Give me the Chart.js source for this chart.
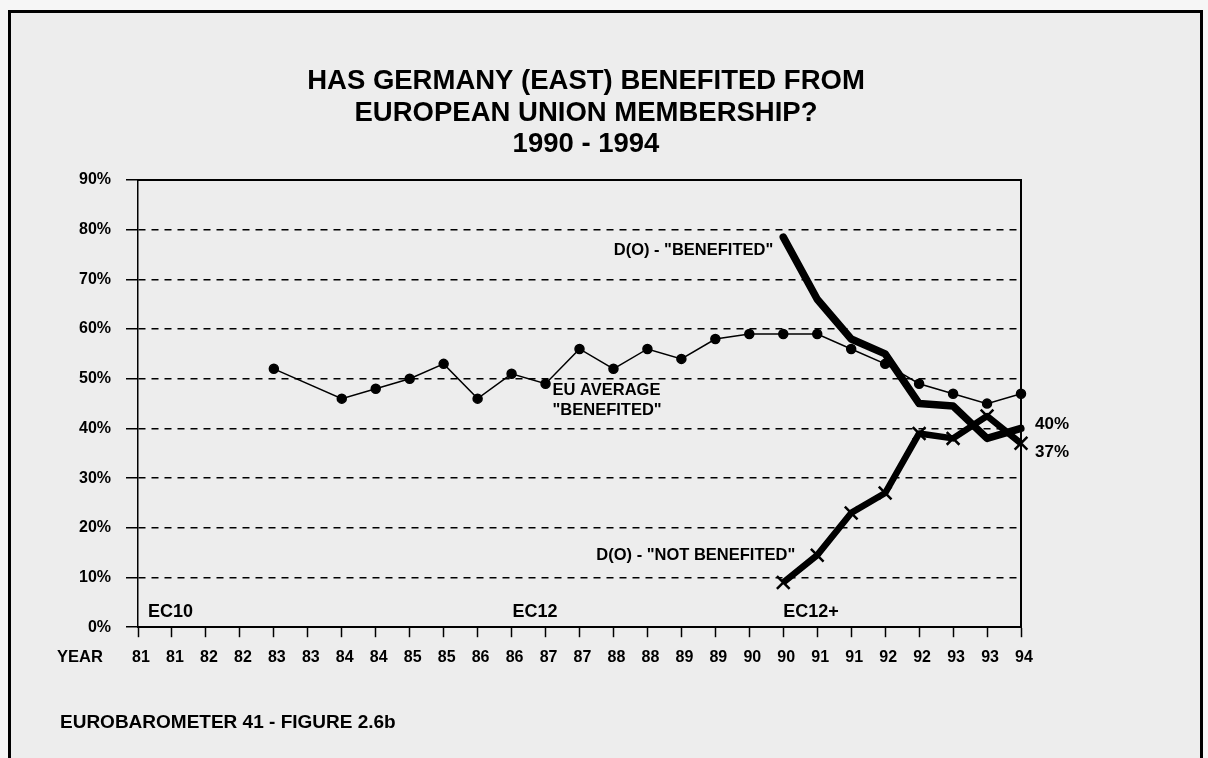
<!DOCTYPE html>
<html><head><meta charset="utf-8">
<script src="https://cdn.jsdelivr.net/npm/chart.js@4.4.1/dist/chart.umd.min.js"></script>
<style>
html,body{margin:0;padding:0;background:#f6f6f6;overflow:hidden;}
#frame{position:absolute;left:8px;top:10px;width:1189px;height:760px;border:3px solid #000;border-bottom:none;background:#ededed;}
#wrap{position:absolute;left:0;top:0;width:1208px;height:758px;}
</style></head><body>
<div id="frame"></div>
<div id="wrap"><canvas id="c" width="1208" height="758"></canvas></div>
<script>
// ---- data ----
const yearLabels = ['81','81','82','82','83','83','84','84','85','85','86','86','87','87','88','88','89','89','90','90','91','91','92','92','93','93','94'];
const euAverageBenefited = [null,null,null,null,52,null,46,48,50,53,46,51,49,56,52,56,54,58,59,59,59,56,53,49,47,45,47];
const eastBenefited = [null,null,null,null,null,null,null,null,null,null,null,null,null,null,null,null,null,null,null,78.5,66,58,55,45,44.5,38,40];
const eastNotBenefited = [null,null,null,null,null,null,null,null,null,null,null,null,null,null,null,null,null,null,null,9,14.5,23,27,39,38,42.5,37];
const yTickValues = [0,10,20,30,40,50,60,70,80,90];
const titleLines = ['HAS GERMANY (EAST) BENEFITED FROM','EUROPEAN UNION MEMBERSHIP?','1990 - 1994'];
const footerText = 'EUROBAROMETER 41 - FIGURE 2.6b';
const axisName = 'YEAR';
const notes = [
  {text:'D(O) - "BENEFITED"', at:19, value:76, dx:-10, dy:1, align:'right', size:16.5},
  {text:'EU AVERAGE', at:12, value:47.7, dx:7, dy:0, align:'left', size:16.5},
  {text:'"BENEFITED"', at:12, value:43.7, dx:7, dy:0, align:'left', size:16.5},
  {text:'D(O) - "NOT BENEFITED"', at:19, value:14.5, dx:12, dy:0, align:'right', size:16.5},
  {text:'EC10', at:0, value:3, dx:10, dy:0, align:'left', size:18},
  {text:'EC12', at:11, value:3, dx:1, dy:0, align:'left', size:18},
  {text:'EC12+', at:19, value:3, dx:0, dy:0, align:'left', size:18},
  {text:'40%', at:26, value:40, dx:14, dy:-4, align:'left', size:17},
  {text:'37%', at:26, value:37, dx:14, dy:9, align:'left', size:17}
];

const FONT = '"Liberation Sans", Arial, Helvetica, sans-serif';
Chart.defaults.font.family = FONT;
Chart.defaults.color = '#000';

const annotate = {
  id: 'annotate',
  afterDraw(chart) {
    const {ctx, scales:{x, y}} = chart;
    ctx.save();
    ctx.fillStyle = '#000';
    ctx.textBaseline = 'middle';
    for (const a of notes) {
      ctx.font = 'bold ' + a.size + 'px ' + FONT;
      ctx.textAlign = a.align;
      ctx.fillText(a.text, x.getPixelForValue(a.at) + a.dx, y.getPixelForValue(a.value) + a.dy);
    }
    ctx.font = 'bold 16.5px ' + FONT;
    ctx.textAlign = 'left';
    ctx.fillText(axisName, 57, x.top + 30);
    ctx.restore();
  }
};

new Chart(document.getElementById('c'), {
  type: 'line',
  data: {
    labels: yearLabels,
    datasets: [
      {label:'EU average "benefited"', data: euAverageBenefited, borderColor:'#000', backgroundColor:'#000',
       borderWidth:1.5, pointRadius:4.5, pointHoverRadius:4.5, pointBackgroundColor:'#000', pointBorderColor:'#000', spanGaps:true, tension:0},
      {label:'D(O) "benefited"', data: eastBenefited, borderColor:'#000', backgroundColor:'#000',
       borderWidth:7.5, pointRadius:0, borderJoinStyle:'round', borderCapStyle:'round', spanGaps:false, tension:0},
      {label:'D(O) "not benefited"', data: eastNotBenefited, borderColor:'#000', backgroundColor:'#000',
       borderWidth:6.5, pointStyle:'crossRot', pointRadius:9, pointBorderWidth:2.5, pointBorderColor:'#000', borderJoinStyle:'round', tension:0}
    ]
  },
  options: {
    responsive:false, animation:false, devicePixelRatio:1,
    layout:{padding:{left:60, right:96, top:0, bottom:24}},
    plugins:{
      legend:{display:false}, tooltip:{enabled:false},
      title:{display:true, text:titleLines, color:'#000', font:{size:27.5, weight:'bold', lineHeight:1.1455}, padding:{top:66, bottom:19.5}},
      subtitle:{display:true, position:'bottom', align:'start', text:footerText, color:'#000', font:{size:19, weight:'bold', lineHeight:1.2}, padding:{top:34, bottom:0}}
    },
    scales:{
      x:{type:'category', position:'bottom',
         grid:{display:true, drawOnChartArea:false, drawTicks:true, tickLength:10, tickColor:'#000', tickWidth:1.5},
         border:{display:true, color:'#000', width:2},
         ticks:{font:{size:16, weight:'bold'}, color:'#000', padding:11, maxRotation:0, autoSkip:false, labelOffset:3},
         afterFit(s){ s.height = 50; }},
      xTop:{type:'category', position:'top', labels: yearLabels,
         grid:{display:false, drawTicks:false}, ticks:{display:false},
         border:{display:true, color:'#000', width:2},
         afterFit(s){ s.height = 0; }},
      y:{min:0, max:90, position:'left',
         afterBuildTicks(s){ s.ticks = yTickValues.map(v => ({value:v})); },
         grid:{color:'#000', lineWidth:1.5, tickLength:12, tickColor:'#000', tickWidth:1.5},
         border:{display:true, color:'#000', width:1.5, dash:[7,6]},
         ticks:{callback:v => v + '%', font:{size:16, weight:'bold'}, color:'#000', padding:15},
         afterFit(s){ s.width = 78; }},
      yRight:{min:0, max:90, position:'right',
         grid:{display:false, drawTicks:false}, ticks:{display:false},
         border:{display:true, color:'#000', width:2},
         afterFit(s){ s.width = 91; }}
    }
  },
  plugins:[annotate]
});
</script></body></html>
